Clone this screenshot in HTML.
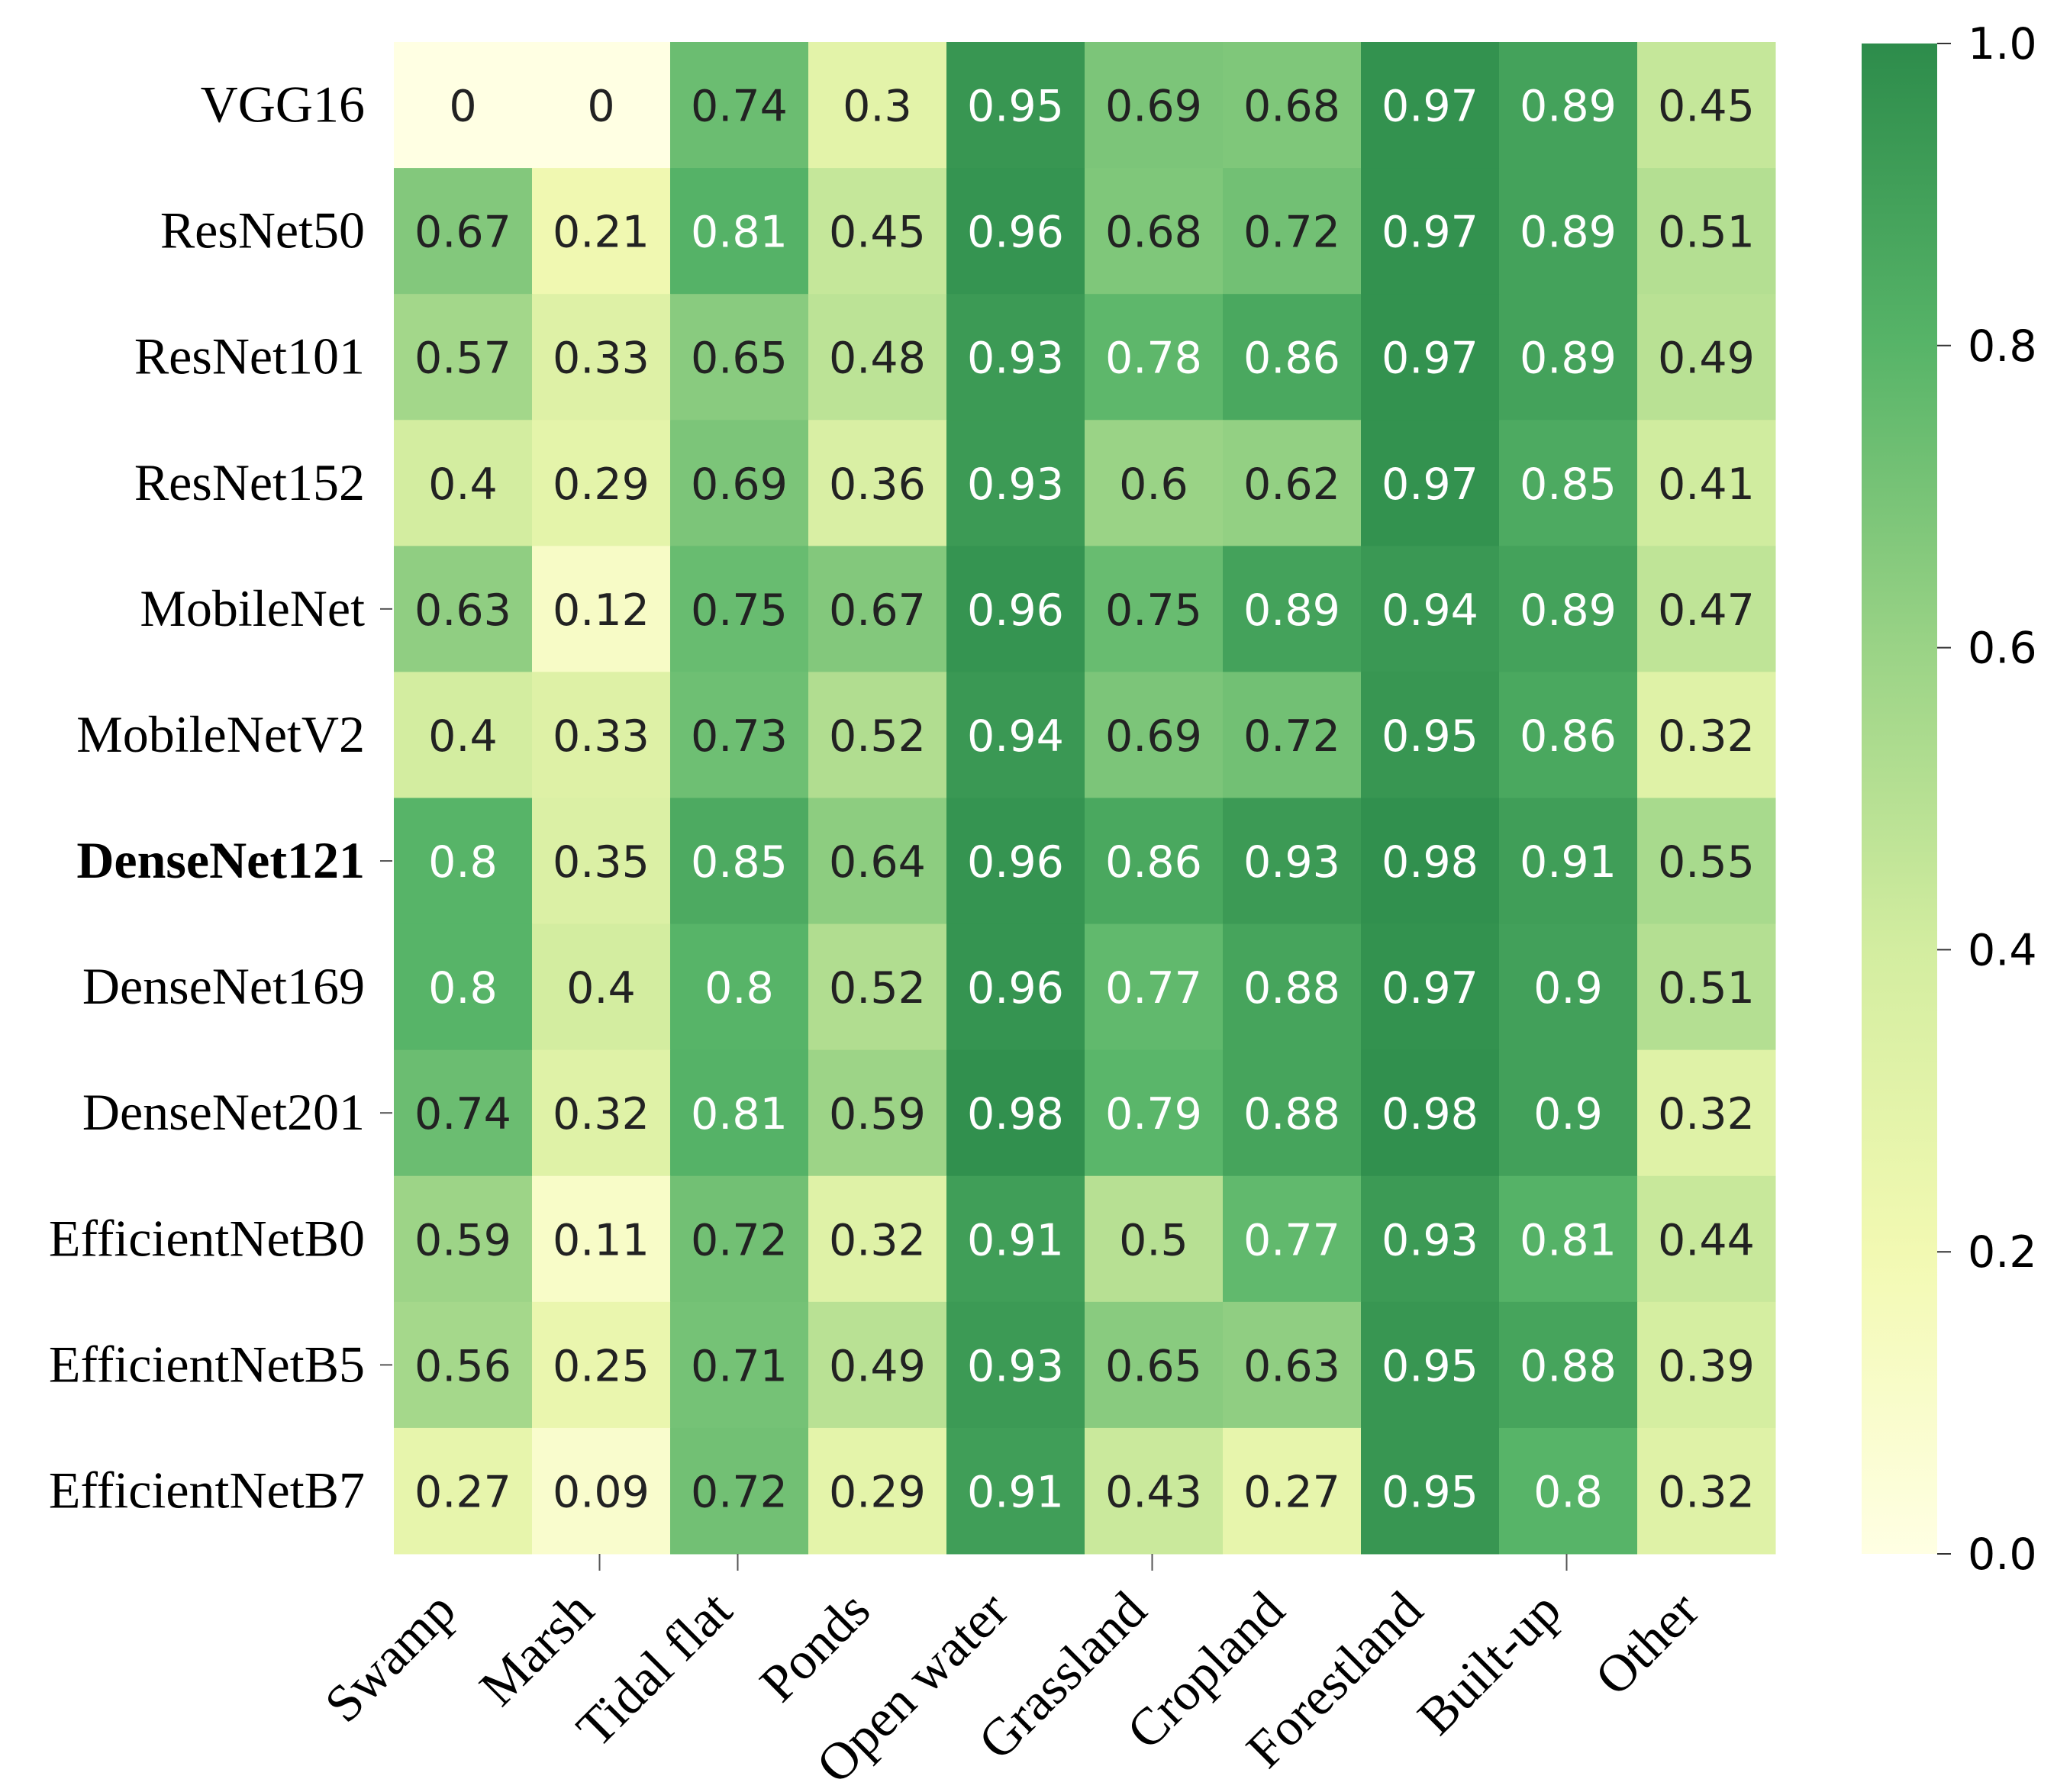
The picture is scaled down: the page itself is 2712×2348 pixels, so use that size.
<!DOCTYPE html>
<html><head><meta charset="utf-8"><style>
html,body{margin:0;padding:0;background:#fff;}
svg{display:block;}
</style></head><body>
<svg id="chart" width="2712" height="2348" viewBox="0 0 2712 2348" xmlns="http://www.w3.org/2000/svg">
<defs>
<linearGradient id="cbgrad" x1="0" y1="1" x2="0" y2="0">
<stop offset="0" stop-color="#ffffe3"/>
<stop offset="0.2" stop-color="#f2f9b2"/>
<stop offset="0.4" stop-color="#d3eda0"/>
<stop offset="0.6" stop-color="#9ad386"/>
<stop offset="0.8" stop-color="#57b468"/>
<stop offset="1" stop-color="#2d8c4b"/>
</linearGradient>
</defs>
<g id="cells"></g>
<g id="ylabels"></g>
<g id="xlabels"></g>
<g id="cbar">
<rect x="2439" y="57" width="99" height="1979" fill="url(#cbgrad)"/>
</g>
</svg>
<script>
const rows = ["VGG16","ResNet50","ResNet101","ResNet152","MobileNet","MobileNetV2","DenseNet121","DenseNet169","DenseNet201","EfficientNetB0","EfficientNetB5","EfficientNetB7"];
const cols = ["Swamp","Marsh","Tidal flat","Ponds","Open water","Grassland","Cropland","Forestland","Built-up","Other"];
const r0 = [0,0,0.74,0.3,0.95,0.69,0.68,0.97,0.89,0.45];
const r1 = [0.67,0.21,0.81,0.45,0.96,0.68,0.72,0.97,0.89,0.51];
const r2 = [0.57,0.33,0.65,0.48,0.93,0.78,0.86,0.97,0.89,0.49];
const r3 = [0.4,0.29,0.69,0.36,0.93,0.6,0.62,0.97,0.85,0.41];
const r4 = [0.63,0.12,0.75,0.67,0.96,0.75,0.89,0.94,0.89,0.47];
const r5 = [0.4,0.33,0.73,0.52,0.94,0.69,0.72,0.95,0.86,0.32];
const r6 = [0.8,0.35,0.85,0.64,0.96,0.86,0.93,0.98,0.91,0.55];
const r7 = [0.8,0.4,0.8,0.52,0.96,0.77,0.88,0.97,0.9,0.51];
const r8 = [0.74,0.32,0.81,0.59,0.98,0.79,0.88,0.98,0.9,0.32];
const r9 = [0.59,0.11,0.72,0.32,0.91,0.5,0.77,0.93,0.81,0.44];
const r10 = [0.56,0.25,0.71,0.49,0.93,0.65,0.63,0.95,0.88,0.39];
const r11 = [0.27,0.09,0.72,0.29,0.91,0.43,0.27,0.95,0.8,0.32];
const cbTicks = [0,0.2,0.4,0.6,0.8,1.0];
const cbTickLabels = ["0.0","0.2","0.4","0.6","0.8","1.0"];
const values = [r0,r1,r2,r3,r4,r5,r6,r7,r8,r9,r10,r11];

const NS="http://www.w3.org/2000/svg";
const X0=516,X1=2326,Y0=55,Y1=2036;
const cw=(X1-X0)/cols.length, ch=(Y1-Y0)/rows.length;
function xPos(i){return X0+i*cw;}
function yPos(j){return Y0+j*ch;}
const CB_TOP=57,CB_BOT=2036;
function cbY(v){return CB_BOT-(CB_BOT-CB_TOP)*v;}
const stops=[[0,[255,255,227]],[0.2,[242,249,178]],[0.4,[211,237,160]],[0.6,[154,211,134]],[0.8,[87,180,104]],[1,[45,140,75]]];
function color(v){
  v=Math.max(0,Math.min(1,v));
  for(let k=1;k<stops.length;k++){
    if(v<=stops[k][0]){
      const a=stops[k-1],b=stops[k],t=(v-a[0])/(b[0]-a[0]);
      const c=a[1].map((x,i)=>Math.round(x+(b[1][i]-x)*t));
      return `rgb(${c[0]},${c[1]},${c[2]})`;
    }
  }
  return "rgb(45,140,75)";
}
function mk(tag,attrs,parent){const e=document.createElementNS(NS,tag);for(const k in attrs)e.setAttribute(k,attrs[k]);parent.appendChild(e);return e;}
const cells=document.getElementById('cells');
values.forEach((row,j)=>{
  row.forEach((v,i)=>{
    const r=mk('rect',{x:xPos(i),y:yPos(j),width:cw+0.5,height:ch+0.5,fill:color(v)},cells);
    
    
    const t=mk('text',{x:xPos(i)+cw/2,y:yPos(j)+ch/2+21,'text-anchor':'middle','font-family':'"DejaVu Sans", sans-serif','font-size':'57',fill:v>0.76?'#ffffff':'#222222'},cells);
    
    
    t.textContent=String(v);
  });
});
const yl=document.getElementById('ylabels');
const yTicked=[4,6,8,10];
rows.forEach((name,j)=>{
  const t=mk('text',{x:478,y:yPos(j)+ch/2+22,'text-anchor':'end','font-family':'"Liberation Serif", serif','font-size':'68','font-weight':j===6?'bold':'normal',fill:'#000'},yl);
  
  
  t.textContent=name;
  if(yTicked.includes(j)){
    const l=mk('line',{x1:498,x2:514,y1:yPos(j)+ch/2,y2:yPos(j)+ch/2,stroke:'#555','stroke-width':2},yl);
    
    
  }
});
const xl=document.getElementById('xlabels');
const xTicked=[1,2,5,8];
cols.forEach((name,i)=>{
  const cx=xPos(i)+cw/2;
  if(xTicked.includes(i)){
    const l=mk('line',{x1:cx-2,x2:cx-2,y1:Y1,y2:Y1+22,stroke:'#555','stroke-width':2},xl);
    
    
  }
  const ax=cx-6, ay=Y1+78;
  const t=mk('text',{x:ax,y:ay,'text-anchor':'end','font-family':'"Liberation Serif", serif','font-size':'69',fill:'#000',transform:`rotate(-45 ${ax} ${ay})`},xl);
  
  
  t.textContent=name;
});
const cb=document.getElementById('cbar');
cbTicks.forEach((v,k)=>{
  const y=cbY(v);
  const l=mk('line',{x1:2538,x2:2556,y1:y,y2:y,stroke:'#333','stroke-width':2},cb);
  
  
  const t=mk('text',{x:2578,y:y+20,'font-family':'"DejaVu Sans", sans-serif','font-size':'57',fill:'#000'},cb);
  
  
  t.textContent=cbTickLabels[k];
});
</script>
</body></html>
